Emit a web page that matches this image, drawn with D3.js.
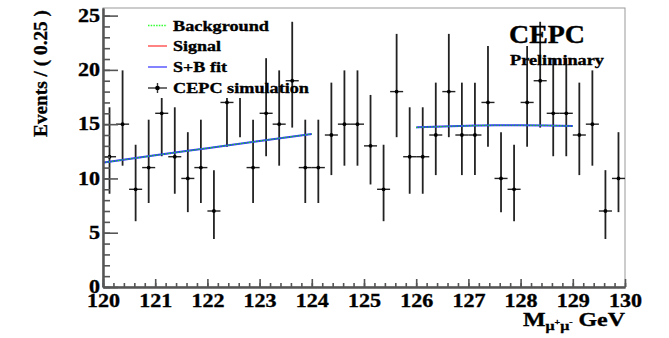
<!DOCTYPE html>
<html>
<head>
<meta charset="utf-8">
<script src="https://cdn.jsdelivr.net/npm/d3@7"></script>
<style>
html,body{margin:0;padding:0;background:#fff;}
svg{display:block;}
text{font-family:"Liberation Serif","DejaVu Serif",serif;font-weight:bold;fill:#000;stroke:#000;stroke-width:0.35;}
</style>
</head>
<body>
<svg id="c" width="669" height="338"></svg>
<script>
// ---- data ----
const binCenters = [120.125,120.375,120.625,120.875,121.125,121.375,121.625,121.875,
  122.125,122.375,122.625,122.875,123.125,123.375,123.625,123.875,
  124.125,124.375,124.625,124.875,125.125,125.375,125.625,125.875,
  126.125,126.375,126.625,126.875,127.125,127.375,127.625,127.875,
  128.125,128.375,128.625,128.875,129.125,129.375,129.625,129.875];
const counts = [12,15,9,11,16,12,10,11,
  7,17,18,11,16,15,19,11,
  11,14,15,15,13,9,18,12,
  12,14,18,14,14,17,10,9,
  17,19,16,16,14,15,7,10];
const fitLowX = [120,121,122,123,124];
const fitLowY = [11.45,12.13,12.79,13.45,14.1];
const fitHighX = [126,126.5,127,127.5,128,128.5,129];
const fitHighY = [14.7,14.78,14.85,14.9,14.9,14.88,14.82];
const xTicks = [120,121,122,123,124,125,126,127,128,129,130];
const yTicks = [0,5,10,15,20,25];
const legendLabels = ["Background","Signal","S+B fit","CEPC simulation"];

// Poisson (Garwood-like) interval approximations
function lowErr(n){ if(n===0) return 0; return n*Math.pow(1-1/(9*n)-1/(3*Math.sqrt(n)),3); }
function highErr(n){ const m=n+1; return m*Math.pow(1-1/(9*m)+1/(3*Math.sqrt(m)),3); }

const svg = d3.select("#c");
const L=103, R=625, T=8, B=287;
const x = d3.scaleLinear().domain([120,130]).range([L,R]);
const y = d3.scaleLinear().domain([0,25.7]).range([B,T]);
const binW = 0.25;

// frame
svg.append("rect").attr("x",L).attr("y",T).attr("width",R-L).attr("height",B-T)
  .attr("fill","none").attr("stroke","#999").attr("stroke-width",1);

// data points
const pts = svg.append("g");
binCenters.forEach((c,i)=>{
  const n = counts[i];
  const g = pts.append("g").attr("stroke","#222");
  g.append("line").attr("x1",x(c)).attr("x2",x(c)).attr("y1",y(highErr(n))).attr("y2",y(lowErr(n)))
    .attr("stroke-width",1.8);
  g.append("line").attr("x1",x(c-binW/2)).attr("x2",x(c+binW/2)).attr("y1",y(n)).attr("y2",y(n))
    .attr("stroke-width",1.4);
  pts.append("circle").attr("cx",x(c)).attr("cy",y(n)).attr("r",1.9).attr("fill","#000");
});

// fit curves
const line = d3.line().x(d=>x(d[0])).y(d=>y(d[1])).curve(d3.curveMonotoneX);
[[fitLowX,fitLowY],[fitHighX,fitHighY]].forEach(([xs,ys])=>{
  const d = xs.map((v,i)=>[v,ys[i]]);
  svg.append("path").attr("d",line(d)).attr("fill","none").attr("stroke","#3030ff").attr("stroke-width",2);
  svg.append("path").attr("d",line(d)).attr("fill","none").attr("stroke","#20e020").attr("stroke-width",1.2)
    .attr("stroke-dasharray","1.5,1.5");
});

// axes
const axisColor = "#555";
const yMinor = svg.append("g").attr("transform",`translate(${L},0)`)
  .call(d3.axisLeft(y).tickValues(d3.range(0,26,1)).tickSizeInner(-7).tickSizeOuter(0).tickFormat(""));
const yMajor = svg.append("g").attr("transform",`translate(${L},0)`)
  .call(d3.axisLeft(y).tickValues(yTicks).tickSizeInner(-15).tickSizeOuter(0).tickPadding(3).tickFormat(d3.format("d")));
const xMinor = svg.append("g").attr("transform",`translate(0,${B})`)
  .call(d3.axisBottom(x).tickValues(d3.range(120,130.01,0.2)).tickSizeInner(-4).tickSizeOuter(0).tickFormat(""));
const xMajor = svg.append("g").attr("transform",`translate(0,${B})`)
  .call(d3.axisBottom(x).tickValues(xTicks).tickSizeInner(-8).tickSizeOuter(0).tickPadding(7).tickFormat(d3.format("d")));
[yMinor,yMajor,xMinor,xMajor].forEach(g=>{
  g.selectAll("path").attr("stroke",axisColor).attr("stroke-width",2);
  g.selectAll("line").attr("stroke",axisColor).attr("stroke-width",1.6);
  g.selectAll("text").attr("font-family","Liberation Serif").attr("font-weight","bold")
    .attr("font-size",18).attr("fill","#000")
    .attr("textLength",function(){return 11*this.textContent.length;})
    .attr("lengthAdjust","spacingAndGlyphs");
});

// legend (white box hides data below)
svg.append("rect").attr("x",138).attr("y",12).attr("width",122).attr("height",86).attr("fill","#fff");
const leg = svg.append("g");
const rowY = [25.5,46,67,88];
const lx1=148, lx2=167, tx=173;
const legLens = [96,48,54,136];
leg.append("line").attr("x1",lx1).attr("x2",lx2).attr("y1",rowY[0]).attr("y2",rowY[0])
  .attr("stroke","#30ff30").attr("stroke-width",1.3).attr("stroke-dasharray","1.5,1.2");
leg.append("line").attr("x1",lx1).attr("x2",lx2).attr("y1",rowY[1]).attr("y2",rowY[1])
  .attr("stroke","#ff4040").attr("stroke-width",1.3);
leg.append("line").attr("x1",lx1).attr("x2",lx2).attr("y1",rowY[2]).attr("y2",rowY[2])
  .attr("stroke","#4040ff").attr("stroke-width",1.3);
leg.append("line").attr("x1",lx1).attr("x2",lx2).attr("y1",rowY[3]).attr("y2",rowY[3])
  .attr("stroke","#333").attr("stroke-width",1.4);
leg.append("line").attr("x1",(lx1+lx2)/2).attr("x2",(lx1+lx2)/2).attr("y1",rowY[3]-5).attr("y2",rowY[3]+5)
  .attr("stroke","#333").attr("stroke-width",1.4);
leg.append("circle").attr("cx",(lx1+lx2)/2).attr("cy",rowY[3]).attr("r",2.3).attr("fill","#000");
legendLabels.forEach((t,i)=>{
  leg.append("text").attr("x",tx).attr("y",rowY[i]).attr("dy","0.35em").attr("font-size",15.5)
    .attr("textLength",legLens[i]).attr("lengthAdjust","spacingAndGlyphs").text(t);
});

// CEPC label
svg.append("text").attr("x",509).attr("y",43).attr("font-size",26).attr("textLength",76)
  .attr("lengthAdjust","spacingAndGlyphs").text("CEPC");
svg.append("text").attr("x",510).attr("y",65).attr("font-size",15).attr("textLength",94)
  .attr("lengthAdjust","spacingAndGlyphs").text("Preliminary");

// axis titles
svg.append("text").attr("transform","translate(47,10) rotate(-90)").attr("text-anchor","end")
  .attr("font-size",19).attr("textLength",127).attr("lengthAdjust","spacingAndGlyphs").text("Events / ( 0.25 )");
const xt = svg.append("text").attr("x",523).attr("y",325.5).attr("font-size",19.5)
  .attr("textLength",102).attr("lengthAdjust","spacingAndGlyphs");
xt.append("tspan").text("M");
xt.append("tspan").attr("font-size",13).attr("dy",4).text("μ");
xt.append("tspan").attr("font-size",8).attr("dy",-5).text("+");
xt.append("tspan").attr("font-size",13).attr("dy",5).text("μ");
xt.append("tspan").attr("font-size",8).attr("dy",-5).text("-");
xt.append("tspan").attr("dy",1).text(" GeV");
</script>
</body>
</html>
